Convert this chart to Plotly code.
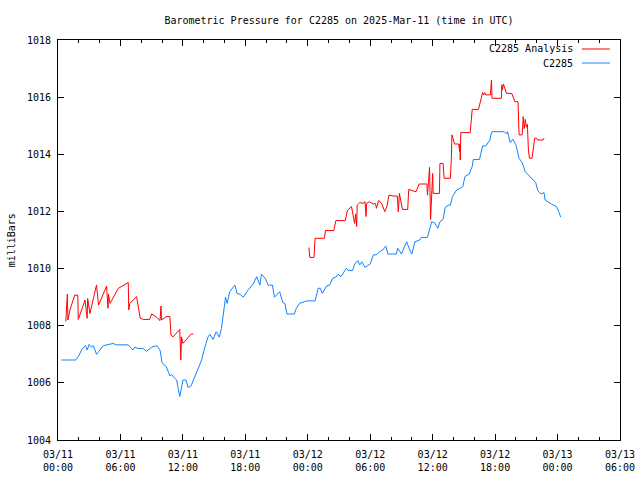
import pandas as pd
import plotly.graph_objects as go

# hours since 2025-03-11 00:00 UTC
obs_hours = [0.3, 1.7, 2.0, 2.3, 2.65, 2.8, 3.0, 3.2, 3.4, 3.7, 4.35, 5.3, 5.6, 6.75, 7.2, 7.4, 7.7, 8.2, 8.5, 9.0,
             9.5, 9.8, 10.0, 10.4, 10.75, 10.9, 11.1, 11.4, 11.55, 11.7, 12.0, 12.3, 12.5, 12.8, 13.1, 13.5, 13.8,
             14.0, 14.4, 14.6, 14.9, 15.2, 15.5, 15.7, 15.9, 16.1, 16.25, 16.5, 17.0, 17.2, 17.5, 17.8, 18.3, 18.75,
             19.1, 19.4, 19.55, 19.9, 20.2, 20.6, 20.8, 21.3, 21.6, 21.8, 22.0, 22.7, 22.9, 23.2, 23.9, 24.7, 25.0,
             25.2, 25.4, 25.8, 26.1, 26.4, 26.7, 26.9, 27.2, 27.7, 27.9, 28.3, 28.5, 28.8, 29.0, 29.2, 29.5, 30.0,
             30.3, 30.6, 30.9, 31.2, 31.5, 31.7, 32.5, 32.65, 33.0, 33.3, 33.5, 33.8, 34.0, 34.3, 34.75, 34.9, 35.5,
             35.9, 36.2, 36.5, 36.7, 37.0, 37.2, 37.5, 37.7, 37.9, 38.1, 38.3, 38.6, 38.9, 39.1, 39.5, 39.8, 39.9,
             40.5, 40.7, 40.8, 41.1, 41.5, 41.6, 41.7, 42.9, 43.1, 43.2, 43.45, 43.7, 44.0, 44.3, 44.6, 44.9, 45.3,
             45.6, 45.9, 46.1, 46.4, 46.7, 46.8, 47.4, 47.9, 48.1, 48.3]
obs_values = [1006.8, 1006.8, 1006.95, 1007.18, 1007.3, 1007.15, 1007.35, 1007.25, 1007.3, 1007.0, 1007.3, 1007.38,
              1007.33, 1007.33, 1007.15, 1007.25, 1007.2, 1007.2, 1007.1, 1007.25, 1007.3, 1007.15, 1006.7, 1006.57,
              1006.24, 1006.3, 1006.2, 1006.1, 1005.8, 1005.52, 1006.1, 1006.1, 1005.84, 1005.9, 1006.17, 1006.57,
              1006.8, 1007.1, 1007.6, 1007.7, 1007.52, 1007.79, 1007.6, 1007.9, 1008.55, 1009.0, 1008.78, 1009.19,
              1009.42, 1009.13, 1009.1, 1009.0, 1009.27, 1009.46, 1009.72, 1009.42, 1009.81, 1009.66, 1009.42,
              1009.42, 1009.0, 1009.19, 1008.81, 1008.78, 1008.41, 1008.41, 1008.61, 1008.78, 1008.87, 1008.87,
              1009.31, 1009.31, 1009.13, 1009.39, 1009.42, 1009.66, 1009.7, 1009.8, 1009.72, 1010.01, 1009.93,
              1009.93, 1010.16, 1010.28, 1010.13, 1010.24, 1010.04, 1010.16, 1010.48, 1010.48, 1010.59, 1010.65,
              1010.79, 1010.51, 1010.51, 1010.71, 1010.51, 1010.74, 1010.94, 1010.65, 1010.51, 1010.94, 1011.0,
              1011.09, 1011.09, 1011.64, 1011.6, 1011.41, 1011.64, 1011.72, 1012.14, 1012.22, 1012.22, 1012.52,
              1012.63, 1012.75, 1012.8, 1012.87, 1013.22, 1013.31, 1013.57, 1013.82, 1013.82, 1014.09, 1014.29,
              1014.29, 1014.5, 1014.68, 1014.79, 1014.79, 1014.71, 1014.79, 1014.41, 1014.53, 1014.33, 1013.86,
              1013.71, 1013.39, 1013.24, 1013.16, 1013.01, 1012.73, 1012.61, 1012.66, 1012.4, 1012.26, 1012.17,
              1012.0, 1011.8]

ana_hours = [0.75, 0.83, 0.9, 0.95, 1.15, 1.6, 1.9, 1.95, 2.6, 2.8, 2.85, 3.07, 3.7, 3.9, 4.67, 4.8, 4.85, 5.0, 5.8,
             6.75, 6.8, 6.9, 7.55, 7.9, 8.2, 8.8, 9.0, 9.4, 9.8, 9.9, 9.95, 10.4, 10.75, 10.85, 11.05, 11.7, 11.8,
             11.87, 12.0, 12.8, 13.0, 18.5,
             24.1, 24.2, 24.6, 24.7, 25.6, 25.7, 26.5, 26.7, 27.6, 27.8, 28.2, 28.35, 28.5, 28.6, 28.7, 28.75, 29.0,
             29.3, 29.5, 29.6, 29.65, 29.9, 30.3, 30.5, 30.6, 30.8, 31.1, 31.4, 31.6, 31.8, 32.2, 32.6, 32.7, 32.8,
             33.1, 33.6, 33.7, 34.1, 34.4, 34.7, 35.45, 35.5, 35.7, 35.8, 36.0, 36.05, 36.65, 36.7, 37.0, 37.1, 37.7,
             37.8, 37.85, 38.0, 38.1, 38.5, 38.6, 38.62, 38.65, 38.7, 39.6, 39.7, 39.8, 40.4, 40.6, 40.8, 40.9, 41.0,
             41.1, 41.55, 41.65, 41.7, 42.6, 42.65, 42.7, 42.8, 42.95, 43.1, 43.6, 43.9, 44.2, 44.3, 44.6, 44.7,
             44.8, 44.9, 45.0, 45.1, 45.2, 45.3, 45.55, 45.7, 45.8, 46.0, 46.1, 46.6, 46.7]
ana_values = [1008.15, 1008.5, 1009.11, 1008.2, 1008.55, 1009.07, 1009.07, 1008.22, 1008.9, 1008.26, 1008.95,
              1008.43, 1009.42, 1008.72, 1009.39, 1008.61, 1009.1, 1008.78, 1009.31, 1009.51, 1008.55, 1008.78,
              1009.02, 1008.26, 1008.22, 1008.22, 1008.41, 1008.32, 1008.18, 1008.69, 1008.2, 1008.32, 1008.32,
              1007.67, 1007.61, 1007.87, 1006.8, 1007.61, 1007.38, 1007.71, 1007.71, None,
              1010.74, 1010.39, 1010.39, 1011.06, 1011.06, 1011.33, 1011.33, 1011.68, 1011.68, 1012.03, 1012.17,
              1011.8, 1011.58, 1011.9, 1011.47, 1012.22, 1012.31, 1012.28, 1012.34, 1011.82, 1012.28, 1012.34,
              1012.26, 1012.28, 1012.11, 1012.38, 1012.28, 1011.99, 1012.17, 1012.57, 1012.54, 1012.54, 1011.99,
              1012.63, 1012.07, 1012.07, 1012.77, 1012.72, 1012.69, 1012.96, 1012.96, 1012.57, 1013.54, 1011.72,
              1013.33, 1012.63, 1012.63, 1013.68, 1013.68, 1013.16, 1013.16, 1013.89, 1014.68, 1014.5, 1014.36,
              1014.36, 1014.09, 1014.36, 1013.8, 1014.76, 1014.76, 1015.14, 1015.57, 1015.57, 1015.84, 1016.16,
              1016.08, 1016.16, 1016.08, 1016.08, 1016.6, 1015.96, 1015.96, 1016.43, 1016.25, 1016.46, 1016.3,
              1016.13, 1016.13, 1015.84, 1015.84, 1014.68, 1014.68, 1015.32, 1014.9, 1015.22, 1014.95, 1015.05,
              1014.15, 1013.86, 1013.86, 1014.41, 1014.56, 1014.56, 1014.5, 1014.5, 1014.56]

series_names = ["C2285 Analysis", "C2285"]
series_colors = ["#ff0000", "#1084ff"]
title_text = "Barometric Pressure for C2285 on 2025-Mar-11 (time in UTC)"
y_label = "milliBars"
y_range = [1004, 1018]

start = pd.Timestamp("2025-03-11 00:00")
end = pd.Timestamp("2025-03-13 06:00")
obs_t = [start + pd.Timedelta(hours=h) for h in obs_hours]
ana_t = [start + pd.Timedelta(hours=h) for h in ana_hours]

FONT = "DejaVu Sans Mono"

fig = go.Figure()
fig.add_trace(go.Scatter(x=ana_t, y=ana_values, mode="lines", name=series_names[0],
                         line=dict(color=series_colors[0], width=1), connectgaps=False))
fig.add_trace(go.Scatter(x=obs_t, y=obs_values, mode="lines", name=series_names[1],
                         line=dict(color=series_colors[1], width=1)))

# legend (gnuplot style: text then line sample)
leg_y = [0.9775, 0.9425]
for name, color, yy in zip(series_names, series_colors, leg_y):
    fig.add_annotation(x=0.92, y=yy, xref="paper", yref="paper", text=name, showarrow=False,
                       xanchor="right", yanchor="middle", font=dict(family=FONT, size=10, color="black"))
    fig.add_shape(type="line", xref="paper", yref="paper", x0=0.932, x1=0.982, y0=yy, y1=yy,
                  line=dict(color=color, width=1))

# y-axis title
fig.add_annotation(x=-0.083, y=0.5, xref="paper", yref="paper", text=y_label, showarrow=False,
                   textangle=-90, xanchor="center", yanchor="middle",
                   font=dict(family=FONT, size=10, color="black"))

fig.update_layout(
    width=640, height=480,
    margin=dict(l=58, r=20, t=40, b=40, autoexpand=False),
    paper_bgcolor="white", plot_bgcolor="white",
    showlegend=False,
    font=dict(family=FONT, size=10, color="black"),
    title=dict(text=title_text, x=0.5, xref="paper", y=0.958, yref="container", xanchor="center",
               yanchor="middle", font=dict(family=FONT, size=10, color="black")),
)
fig.update_xaxes(
    type="date", range=[start, end], dtick=6 * 3600 * 1000, tick0=start, automargin=False,
    tickformat="%m/%d<br>%H:%M", ticks="inside", ticklen=6, tickcolor="black",
    showline=True, linecolor="black", linewidth=1, mirror="ticks", showgrid=False, zeroline=False,
    minor=dict(dtick=2 * 3600 * 1000, ticks="inside", ticklen=3, tickcolor="black", showgrid=False),
    tickfont=dict(family=FONT, size=10), ticklabelstandoff=5,
)
fig.update_yaxes(
    range=y_range, dtick=2, ticks="inside", ticklen=6, tickcolor="black", automargin=False,
    showline=True, linecolor="black", linewidth=1, mirror="ticks", showgrid=False, zeroline=False,
    tickfont=dict(family=FONT, size=10), ticklabelstandoff=4,
)

fig.write_html("out.html", config={"displayModeBar": False},
               post_script="document.body.style.margin='0';document.body.style.overflow='hidden';")
